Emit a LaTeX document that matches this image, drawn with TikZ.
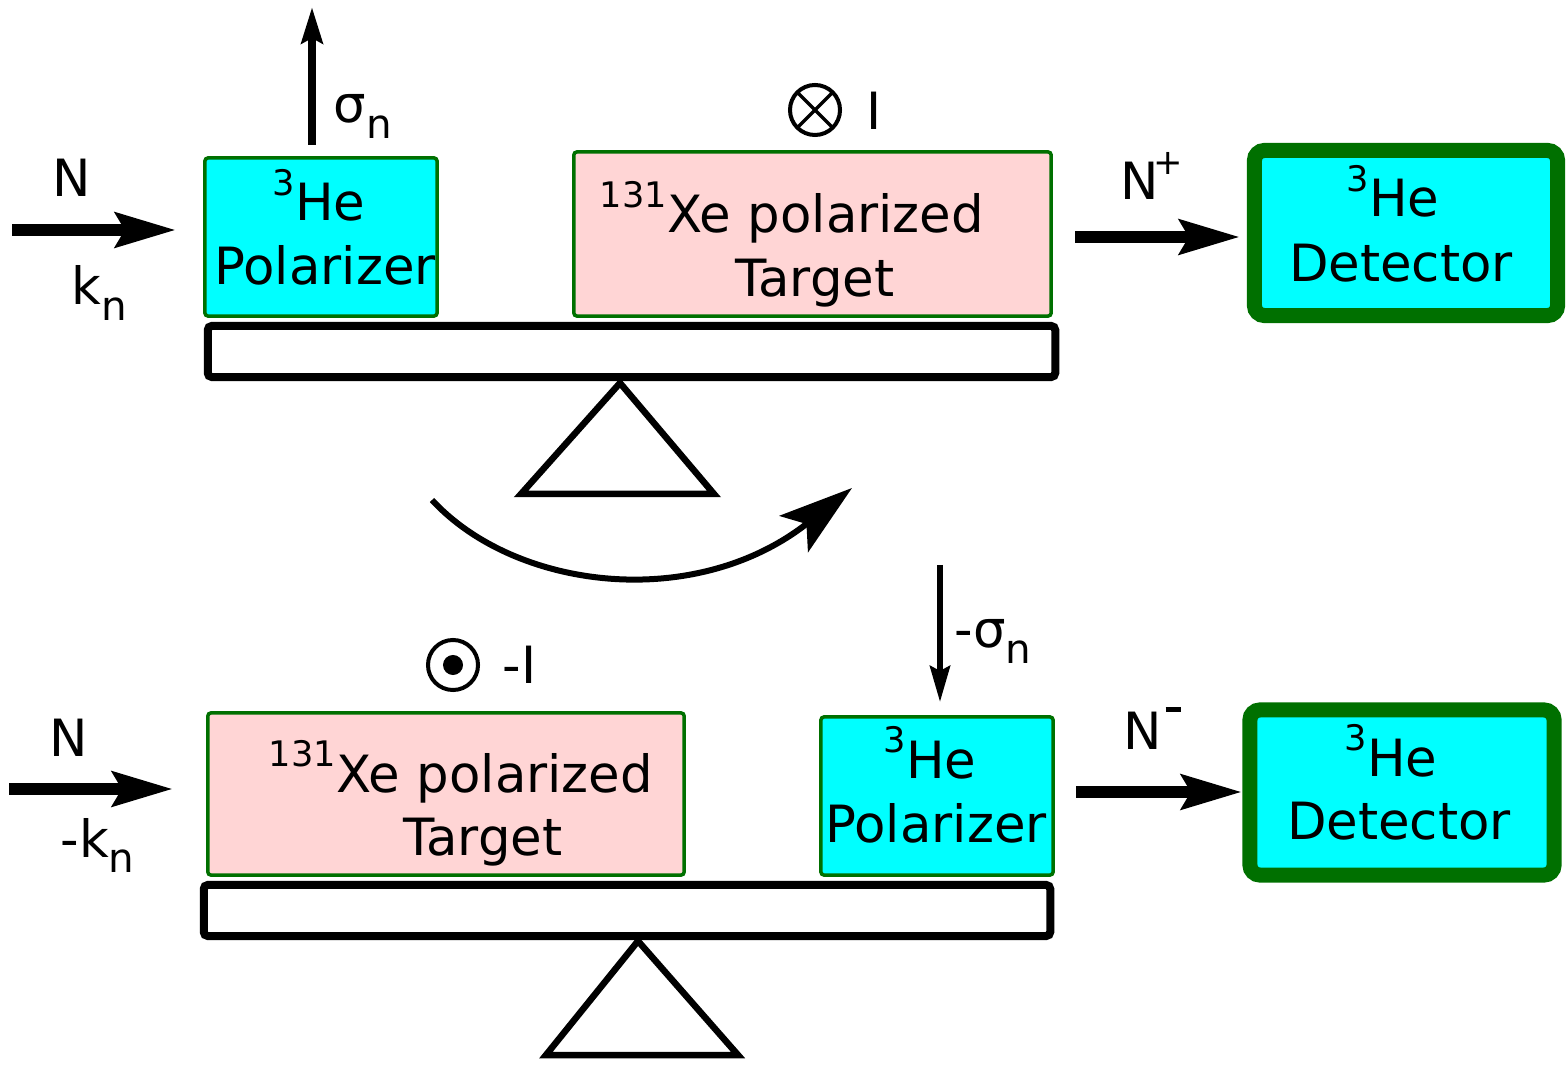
\documentclass[tikz,border=0pt]{standalone}
\usepackage{fontspec}
\setmainfont{DejaVu Sans}
\usetikzlibrary{arrows.meta}
\definecolor{dgreen}{RGB}{0,112,0}
\definecolor{tpink}{RGB}{255,213,213}
\definecolor{pcyan}{RGB}{0,255,255}
\newcommand\mysup[1]{\raisebox{0.5em}{\fontsize{10}{10}\selectfont #1}}
\newcommand\mysub[1]{\raisebox{-0.3em}{\fontsize{11.5}{11.5}\selectfont #1}}
\begin{document}
\begin{tikzpicture}[x=0.01cm,y=-0.01cm,
 txt/.style={font=\fontsize{14.6}{17}\selectfont, inner sep=0pt, anchor=base},
 txtw/.style={txt, anchor=base west},
 polbox/.style={draw=dgreen, fill=pcyan, line width=0.035cm, rounded corners=0.03cm, inner sep=0pt, outer sep=0pt},
 tgtbox/.style={polbox, fill=tpink},
 detbox/.style={draw=dgreen, fill=pcyan, line width=0.15cm, rounded corners=0.1cm, inner sep=0pt, outer sep=0pt},
 beambar/.style={draw=black, fill=white, line width=0.08cm, rounded corners=0.04cm, inner sep=0pt, outer sep=0pt},
 fulcrum/.style={draw=black, line width=0.065cm, line join=miter},
 beamarrow/.style={line width=0.12cm, -{Stealth[length=0.6cm,width=0.34cm,inset=0.09cm]}},
 spinarrow/.style={line width=0.08cm, -{Stealth[length=0.36cm,width=0.21cm,inset=0.05cm]}},
 mspinarrow/.style={line width=0.06cm, -{Stealth[length=0.36cm,width=0.2cm,inset=0.05cm]}},
 rotarrow/.style={line width=0.06cm, -{Stealth[length=0.74cm,width=0.46cm,inset=0.16cm]}},
 curcirc/.style={circle, draw=black, line width=0.04cm, minimum size=0.5cm, inner sep=0pt, outer sep=0pt}
]
\useasboundingbox (0,0) rectangle (1566,1067);

% ---------------- top configuration ----------------
\node[beambar, minimum width=8.47cm, minimum height=0.51cm] (beamT) at (631.5,351.5) {};
\node[polbox, minimum width=2.32cm, minimum height=1.58cm] (polT) at (321,237) {};
\node[tgtbox, minimum width=4.77cm, minimum height=1.64cm] (tgtT) at (812.5,234) {};
\node[detbox, minimum width=3.03cm, minimum height=1.65cm] (detT) at (1406,233) {};
\coordinate (apexT) at (620,383);
\draw[fulcrum] (apexT) -- (521,494) -- (714,494) -- cycle;

\node[txt] (polTa) at (319,221) {\mysup{3}He};
\node[txt] (polTb) at (325,285) {Polarizer};
\node[txt] (tgtTa) at (792,233) {\mysup{131}Xe polarized};
\node[txt] (tgtTb) at (815,297) {Target};
\node[txt] (detTa) at (1393,217) {\mysup{3}He};
\node[txt] (detTb) at (1401,282) {Detector};

\coordinate (inTs) at (12,230);
\coordinate (inTe) at (176,230);
\draw[beamarrow] (inTs) -- (inTe);
\node[txt] (NT) at (72,197) {N};
\node[txtw] (kT) at (71,305) {k\mysub{n}};

\coordinate (sgTs) at (312,145);
\coordinate (sgTe) at (312,7);
\draw[spinarrow] (sgTs) -- (sgTe);
\node[txtw] (sgT) at (333,123) {σ\mysub{n}};

\node[curcirc] (otimes) at (815,110) {};
\draw[line width=0.035cm] (otimes.north west) -- (otimes.south east);
\draw[line width=0.035cm] (otimes.north east) -- (otimes.south west);
\node[txtw] (IT) at (866,130) {I};

\coordinate (outTs) at (1075,237);
\coordinate (outTe) at (1240,237);
\draw[beamarrow] (outTs) -- (outTe);
\node[txtw] (NpT) at (1120,200) {N\kern-1.5pt\mysup{+}};

% ---------------- rotation arrow ----------------
\coordinate (rotS) at (432,500);
\coordinate (rotE) at (852,488);
\draw[rotarrow] (rotS) .. controls (515,590) and (695,612) .. (rotE);

% ---------------- bottom configuration ----------------
\node[beambar, minimum width=8.46cm, minimum height=0.51cm] (beamB) at (627,910.5) {};
\node[tgtbox, minimum width=4.76cm, minimum height=1.62cm] (tgtB) at (446,794) {};
\node[polbox, minimum width=2.32cm, minimum height=1.58cm] (polB) at (937,796) {};
\node[detbox, minimum width=3.04cm, minimum height=1.65cm] (detB) at (1402,792.5) {};
\coordinate (apexB) at (638,941);
\draw[fulcrum] (apexB) -- (546,1055) -- (738,1055) -- cycle;

\node[txt] (tgtBa) at (461,792) {\mysup{131}Xe polarized};
\node[txt] (tgtBb) at (483,856) {Target};
\node[txt] (polBa) at (930,778) {\mysup{3}He};
\node[txt] (polBb) at (936,843) {Polarizer};
\node[txt] (detBa) at (1391,776) {\mysup{3}He};
\node[txt] (detBb) at (1399,840) {Detector};

\coordinate (inBs) at (9,789);
\coordinate (inBe) at (173,789);
\draw[beamarrow] (inBs) -- (inBe);
\node[txt] (NB) at (69,756) {N};
\node[txtw] (kB) at (60,857) {-k\mysub{n}};

\node[curcirc] (odot) at (453,665) {};
\fill (odot.center) circle[radius=0.1cm];
\node[txtw] (IB) at (502,683) {-I};

\coordinate (sgBs) at (940,565);
\coordinate (sgBe) at (940,702);
\draw[mspinarrow] (sgBs) -- (sgBe);
\node[txtw] (sgB) at (954,648) {-σ\mysub{n}};

\coordinate (outBs) at (1076,792);
\coordinate (outBe) at (1242,792);
\draw[beamarrow] (outBs) -- (outBe);
\node[txtw] (NmB) at (1123,749) {N\kern1pt\raisebox{10.5pt}{\rule{4.3pt}{1.4pt}}};
\end{tikzpicture}
\end{document}
